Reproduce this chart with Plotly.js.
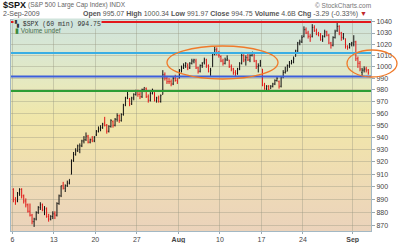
<!DOCTYPE html>
<html><head><meta charset="utf-8">
<script src="https://cdn.plot.ly/plotly-3.0.1.min.js"></script>
<style>
html,body{margin:0;padding:0;background:#fff;}
#wrap{position:relative;width:400px;height:243px;overflow:hidden;}
#bg{position:absolute;left:11px;top:20px;width:360px;height:211px;
background:linear-gradient(to bottom,#cfe3dc 0%,#d9e7d2 14%,#e6e9bf 30%,#f0e7aa 46%,#f0e1ae 62%,#eedab6 80%,#ebd3bb 100%);}
#chart{position:absolute;left:0;top:0;width:400px;height:243px;}
</style></head><body>
<div id="wrap"><div id="bg"></div><div id="chart"></div></div>
<script>
// ---- data ----
const tradingDays = ['2009-07-06','2009-07-07','2009-07-08','2009-07-09','2009-07-10',
 '2009-07-13','2009-07-14','2009-07-15','2009-07-16','2009-07-17',
 '2009-07-20','2009-07-21','2009-07-22','2009-07-23','2009-07-24',
 '2009-07-27','2009-07-28','2009-07-29','2009-07-30','2009-07-31',
 '2009-08-03','2009-08-04','2009-08-05','2009-08-06','2009-08-07',
 '2009-08-10','2009-08-11','2009-08-12','2009-08-13','2009-08-14',
 '2009-08-17','2009-08-18','2009-08-19','2009-08-20','2009-08-21',
 '2009-08-24','2009-08-25','2009-08-26','2009-08-27','2009-08-28',
 '2009-08-31','2009-09-01','2009-09-02'];
const barsPerDay = 4;
const tickDays = ['2009-07-06','2009-07-13','2009-07-20','2009-07-27','2009-08-03','2009-08-10','2009-08-17','2009-08-24','2009-09-01'];
const tickLabels = ['6','13','20','27','<b>Aug</b>','10','17','24','<b>Sep</b>'];
const yTicks = [870,880,890,900,910,920,930,940,950,960,970,980,990,1000,1010,1020,1030,1040];

const opens = [
 898,890,889,895, 898,893,889,886, 881,878,873,875, 880,884,886,882, 883,877,875,877,
 879,878,887,893, 901,899,901,903, 910,921,926,929, 930,933,937,938, 941,936,938,937,
 942,945,947,948, 952,950,945,949, 953,950,955,958, 954,959,967,973, 972,968,973,976,
 979,976,974,980, 981,974,971,977, 978,971,973,970, 976,993,990,987, 987,985,990,988,
 990,997,999,1001, 1001,999,1003,1005, 1005,999,996,1001, 1004,1006,1001,996, 1000,1011,1015,1012,
 1009,1005,1003,1006, 1006,1000,998,995, 994,998,1003,1010, 1006,1008,1006,1010, 1012,1005,1000,1001,
 998,984,981,983, 981,983,985,988, 987,983,991,995, 996,1001,1003,1004, 1009,1014,1021,1022,
 1027,1033,1030,1027, 1027,1035,1032,1029, 1027,1024,1027,1031, 1028,1021,1019,1026, 1032,1036,1030,1026,
 1025,1018,1017,1020, 1020,1022,1007,1003, 995.07,997,998,997];
const highs = [
 899,892,896,899, 899,894,891,887, 887,879,876,881, 885,888,887,885, 884,879,878,881,
 881,888,894,901, 904,902,905,906, 922,928,931,934, 935,938,941,944, 942,939,941,941,
 946,949,950,952, 957,951,950,955, 954,956,960,959, 960,968,974,979, 973,974,977,980,
 980,978,981,982, 982,976,978,981, 978,974,975,976, 997,995,992,990, 989,991,993,990,
 998,1001,1003,1004, 1003,1004,1007,1007, 1007,1000,1002,1004, 1008,1007,1002,999, 1012,1018,1017,1014,
 1010,1007,1008,1010, 1006,1002,999,997, 999,1004,1013,1011, 1010,1012,1011,1013, 1013,1006,1003,1006,
 998,986,984,984, 984,986,989,991, 988,992,997,1000, 1002,1005,1006,1009, 1015,1022,1024,1028,
 1036,1035,1032,1029, 1038,1037,1034,1031, 1030,1028,1033,1032, 1029,1022,1027,1033, 1040,1037,1031,1030,
 1025,1019,1021,1022, 1028,1023,1009,1005, 999,1000.34,1000,998];
const lows = [
 888,886,888,893, 891,887,884,880, 877,871,869,874, 879,882,881,878, 876,873,874,875,
 875,877,886,892, 898,896,900,902, 910,920,925,928, 927,932,935,937, 935,935,936,936,
 941,944,945,947, 949,943,944,948, 948,949,953,952, 953,958,966,972, 966,967,971,975,
 974,972,973,978, 973,969,970,976, 970,969,969,969, 976,988,985,985, 983,984,987,985,
 990,995,998,999, 997,998,1002,1003, 998,994,995,999, 1002,999,995,992, 1000,1010,1010,1008,
 1004,1001,1002,1005, 999,996,993,992, 993,997,1002,1004, 1001,1005,1004,1009, 1004,998,995,1000,
 983,980,979,979, 981,982,984,987, 981,982,990,994, 996,999,1002,1003, 1009,1013,1019,1021,
 1026,1029,1025,1022, 1026,1031,1028,1027, 1023,1022,1026,1027, 1020,1016,1018,1025, 1031,1028,1023,1024,
 1016,1015,1016,1018, 1018,1005,999,996, 991.97,995,995,993];
const closes = [
 890,889,895,898, 893,889,886,881, 878,873,875,880, 884,886,882,883, 877,875,877,879,
 878,887,893,901, 899,901,903,906, 921,926,929,933, 933,937,938,941, 936,938,937,940,
 945,947,948,951, 950,945,949,954, 950,955,958,954, 959,967,973,976, 968,973,976,979,
 976,974,980,982, 974,971,977,980, 971,973,970,975, 993,990,987,987, 985,990,988,987,
 997,999,1001,1003, 999,1003,1005,1006, 999,996,1001,1003, 1006,1001,996,997, 1011,1015,1012,1010,
 1005,1003,1006,1007, 1000,998,995,994, 998,1003,1010,1006, 1008,1006,1010,1013, 1005,1000,1001,1004,
 984,981,983,980, 983,985,988,990, 983,991,995,996, 1001,1003,1004,1007, 1014,1021,1022,1026,
 1033,1030,1027,1026, 1035,1032,1029,1028, 1024,1027,1031,1028, 1021,1019,1026,1031, 1036,1030,1026,1029,
 1018,1017,1020,1021, 1022,1007,1003,998, 997,998,997,994.75];

const levelValues = [1040, 1012, 991.5, 979];
const levelColors = ['#e3171c','#3aaee4','#3c5fdc','#2d9e35'];

const headerLabels = ['Open','High','Low','Close','Volume','Chg'];
const headerValues = ['995.07','1000.34','991.97','994.75','4.6B','-3.29 (-0.33%)'];

// ---- geometry helpers (layout only) ----
const ML=11, MR=29, MT=20, MB=12, W=400, H=243;
const PW=W-ML-MR, PH=H-MT-MB;
const px=x=>(x-ML)/PW, py=y=>(H-MB-y)/PH;
const xRange=[-0.16,43.2];

const xs = closes.map((_,i)=>Math.floor(i/barsPerDay)+((i%barsPerDay)+0.5)/barsPerDay);
const tickvals = tickDays.map(d=>tradingDays.indexOf(d));

const traces = [{
  type:'ohlc', x:xs, open:opens, high:highs, low:lows, close:closes,
  increasing:{line:{color:'#111111',width:1}},
  decreasing:{line:{color:'#e01515',width:1}},
  tickwidth:0.3, hoverinfo:'skip'
}];
levelValues.forEach((v,i)=>traces.push({
  type:'scatter', mode:'lines', x:xRange, y:[v,v],
  line:{color:levelColors[i], width:2}, hoverinfo:'skip'
}));

const F='Liberation Sans, Arial, sans-serif';
const hdr = headerLabels.map((l,i)=>'<b>'+l+'</b> '+headerValues[i]).join(' ')+' <span style="color:#c0282d">▼</span>';

const layout = {
  width:W, height:H, margin:{l:ML,r:MR,t:MT,b:MB},
  paper_bgcolor:'rgba(0,0,0,0)', plot_bgcolor:'rgba(0,0,0,0)',
  showlegend:false, font:{family:F,size:7,color:'#444'},
  xaxis:{range:xRange, tickmode:'array', tickvals:tickvals, ticktext:tickLabels,
    tickfont:{family:F,size:7,color:'#444'}, ticks:'outside', ticklen:2, tickcolor:'#9aa9b0',
    showgrid:true, gridcolor:'rgba(150,150,130,0.38)', gridwidth:1,
    showline:true, mirror:true, linecolor:'#a3b8c4', linewidth:1, zeroline:false,
    rangeslider:{visible:false}, fixedrange:true},
  yaxis:{type:'log', side:'right', range:[Math.log10(865.9),Math.log10(1041.8)],
    tickmode:'array', tickvals:yTicks, ticktext:yTicks.map(String),
    tickfont:{family:F,size:7,color:'#444'}, ticks:'outside', ticklen:3, tickcolor:'#9aa9b0',
    showgrid:true, gridcolor:'rgba(150,150,130,0.38)', gridwidth:1,
    showline:true, mirror:true, linecolor:'#a3b8c4', linewidth:1, zeroline:false, fixedrange:true},
  shapes:[
    {type:'circle', xref:'paper', yref:'paper', x0:px(167), x1:px(278), y0:py(79), y1:py(46),
     line:{color:'#f07a2a',width:1.3}, layer:'above'},
    {type:'circle', xref:'paper', yref:'paper', x0:px(347), x1:px(397), y0:py(77), y1:py(50),
     line:{color:'#f07a2a',width:1.3}, layer:'above'}
  ],
  annotations:[
    {xref:'paper',yref:'paper',x:px(1),y:py(5.5),xanchor:'left',yanchor:'middle',showarrow:false,
     text:'<b>$SPX</b>',font:{family:F,size:9,color:'#111'}},
    {xref:'paper',yref:'paper',x:px(26),y:py(5.5),xanchor:'left',yanchor:'middle',showarrow:false,
     text:'(S&P 500 Large Cap Index) INDX',font:{family:F,size:6.5,color:'#666'}},
    {xref:'paper',yref:'paper',x:px(1),y:py(14),xanchor:'left',yanchor:'middle',showarrow:false,
     text:'2-Sep-2009',font:{family:F,size:7,color:'#555'}},
    {xref:'paper',yref:'paper',x:px(369),y:py(14),xanchor:'right',yanchor:'middle',showarrow:false,
     text:hdr,font:{family:F,size:7,color:'#555'}},
    {xref:'paper',yref:'paper',x:px(373),y:py(5.5),xanchor:'right',yanchor:'middle',showarrow:false,
     text:'© StockCharts.com',font:{family:F,size:6.5,color:'#777'}},
    {xref:'paper',yref:'paper',x:px(13),y:py(23.5),xanchor:'left',yanchor:'middle',showarrow:false,
     text:'<span style="color:#333">▚</span> $SPX (60 min) 994.75',font:{family:'Liberation Mono, monospace',size:6.5,color:'#333'},
     bgcolor:'#d0e4dc',borderpad:0},
    {xref:'paper',yref:'paper',x:px(13),y:py(30),xanchor:'left',yanchor:'middle',showarrow:false,
     text:'<span style="color:#3b8a3b">▮</span> Volume undef',font:{family:F,size:6.5,color:'#4a6e4a'}}
  ]
};
Plotly.newPlot('chart', traces, layout, {staticPlot:true, displayModeBar:false});
</script>
</body></html>
